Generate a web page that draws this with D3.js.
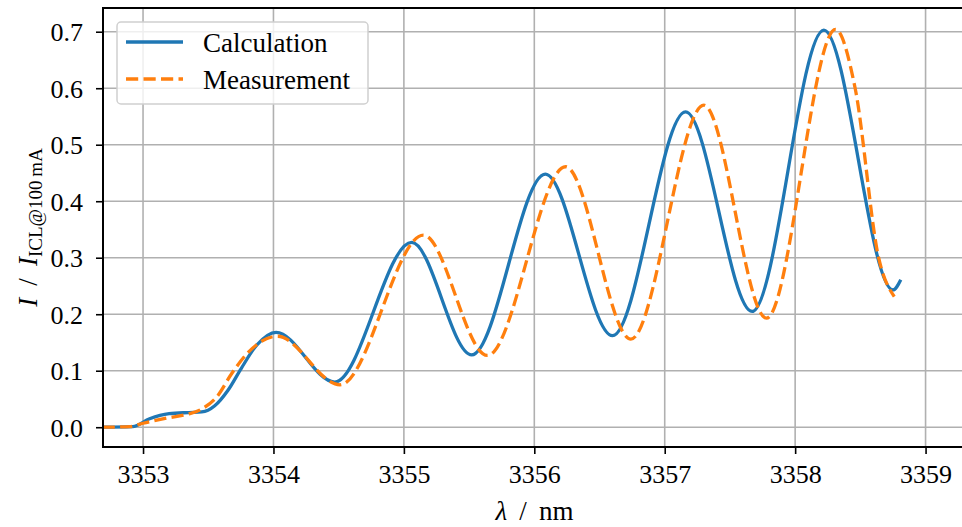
<!DOCTYPE html>
<html>
<head>
<meta charset="utf-8">
<script src="https://cdn.jsdelivr.net/npm/d3@7"></script>
<style>
  body { margin: 0; background: #fff; }
  svg { display: block; font-family: "Liberation Serif", "DejaVu Serif", serif; }
</style>
</head>
<body>
<svg width="962" height="527"></svg>
<script>
const svg = d3.select("svg"),
      width = +svg.attr("width"),
      height = +svg.attr("height");

const serif = "Liberation Serif, DejaVu Serif, serif";

// values (wavelength in nm, relative intensity)
const calcLambda = [3352.69, 3352.92, 3353.05, 3353.20, 3353.35, 3353.45, 3353.55, 3353.65, 3353.75, 3353.87,
    3354.02, 3354.47, 3355.06, 3355.52, 3356.085, 3356.60, 3357.16, 3357.67, 3358.22, 3358.75, 3358.81];
const calcValue = [0, 0.001, 0.015, 0.024, 0.026, 0.027, 0.038, 0.065, 0.103, 0.145,
    0.168, 0.080, 0.327, 0.128, 0.448, 0.162, 0.558, 0.205, 0.703, 0.243, 0.261];

const measLambda = [3352.69, 3352.90, 3353.00, 3353.18, 3353.34, 3353.44, 3353.57, 3353.68, 3353.80,
    3354.03, 3354.51, 3355.15, 3355.64, 3356.24, 3356.74, 3357.30, 3357.78, 3358.31, 3358.46,
    3358.64, 3358.76];
const measValue = [0, 0.001, 0.007, 0.016, 0.023, 0.031, 0.055, 0.095, 0.131,
    0.161, 0.075, 0.340, 0.127, 0.461, 0.156, 0.570, 0.193, 0.704, 0.600,
    0.300, 0.231];

const xTicks = [3353, 3354, 3355, 3356, 3357, 3358, 3359];
const yTicks = [0.0, 0.1, 0.2, 0.3, 0.4, 0.5, 0.6, 0.7];

const seriesNames = ["Calculation", "Measurement"];
const seriesColors = ["#1f77b4", "#ff7f0e"];

const margin = {top: 8, right: -4, bottom: 80, left: 103};
const plotW = width - margin.left - margin.right,
      plotH = height - margin.top - margin.bottom;

const x = d3.scaleLinear().domain([3352.693, 3359.31]).range([0, plotW]);
const y = d3.scaleLinear().domain([-0.035, 0.742]).range([plotH, 0]);

const g = svg.append("g").attr("transform", `translate(${margin.left},${margin.top})`);

svg.append("defs").append("clipPath").attr("id", "clip")
    .append("rect").attr("width", plotW).attr("height", plotH);

// grid
g.append("g").selectAll("line").data(xTicks).join("line")
    .attr("x1", d => x(d)).attr("x2", d => x(d))
    .attr("y1", 0).attr("y2", plotH)
    .attr("stroke", "#b0b0b0").attr("stroke-width", 1.6);
g.append("g").selectAll("line").data(yTicks).join("line")
    .attr("x1", 0).attr("x2", plotW)
    .attr("y1", d => y(d)).attr("y2", d => y(d))
    .attr("stroke", "#b0b0b0").attr("stroke-width", 1.6);

// curves
const line = d3.line().curve(d3.curveMonotoneX).x(d => x(d[0])).y(d => y(d[1]));
const calc = d3.zip(calcLambda, calcValue);
const meas = d3.zip(measLambda, measValue);

const curves = g.append("g").attr("clip-path", "url(#clip)");
curves.append("path").datum(calc)
    .attr("d", line).attr("fill", "none")
    .attr("stroke", seriesColors[0]).attr("stroke-width", 3.3);
curves.append("path").datum(meas)
    .attr("d", line).attr("fill", "none")
    .attr("stroke", seriesColors[1]).attr("stroke-width", 3.3)
    .attr("stroke-dasharray", "12.2,5.3");

// axes
const xAxis = g.append("g").attr("transform", `translate(0,${plotH})`)
    .call(d3.axisBottom(x).tickValues(xTicks).tickFormat(d3.format("d")).tickSizeOuter(0).tickSize(7).tickPadding(11));
const yAxis = g.append("g")
    .call(d3.axisLeft(y).tickValues(yTicks).tickFormat(d3.format(".1f")).tickSizeOuter(0).tickSize(7).tickPadding(13));
[xAxis, yAxis].forEach(a => {
    a.attr("font-family", serif).attr("font-size", 26);
    a.select(".domain").remove();
    a.selectAll(".tick line").attr("stroke", "#000").attr("stroke-width", 1.6);
    a.selectAll(".tick text").attr("fill", "#000").attr("font-family", serif);
});
yAxis.selectAll(".tick text").attr("dy", "0.34em");

// frame (right side falls outside the picture)
g.append("rect").attr("width", plotW).attr("height", plotH)
    .attr("fill", "none").attr("stroke", "#000").attr("stroke-width", 2);

// axis labels
svg.append("text")
    .attr("x", margin.left + plotW / 2).attr("y", 520)
    .attr("text-anchor", "middle").attr("font-size", 27)
    .html('<tspan font-style="italic">λ</tspan>\u2009 / \u2009nm');

const yl = svg.append("text")
    .attr("transform", `translate(37,${margin.top + plotH / 2}) rotate(-90)`)
    .attr("text-anchor", "middle").attr("font-size", 27);
yl.append("tspan").attr("font-style", "italic").text("I");
yl.append("tspan").text("\u2009 / \u2009");
yl.append("tspan").attr("font-style", "italic").text("I");
yl.append("tspan").attr("font-size", 19).attr("dy", 5).text("ICL@100\u2009mA");

// legend
const leg = svg.append("g").attr("transform", "translate(117,22)");
leg.append("rect").attr("width", 251).attr("height", 82).attr("rx", 4)
    .attr("fill", "#fff").attr("fill-opacity", 0.8)
    .attr("stroke", "#d0d0d0").attr("stroke-width", 1.5);
seriesNames.forEach((name, i) => {
    const yy = 20 + i * 37;
    leg.append("line").attr("x1", 9).attr("x2", 66).attr("y1", yy).attr("y2", yy)
        .attr("stroke", seriesColors[i]).attr("stroke-width", 3.3)
        .attr("stroke-dasharray", i === 1 ? "12.2,5.3" : null);
    leg.append("text").attr("x", 86).attr("y", yy + 10)
        .attr("font-size", 27).text(name);
});
</script>
</body>
</html>
